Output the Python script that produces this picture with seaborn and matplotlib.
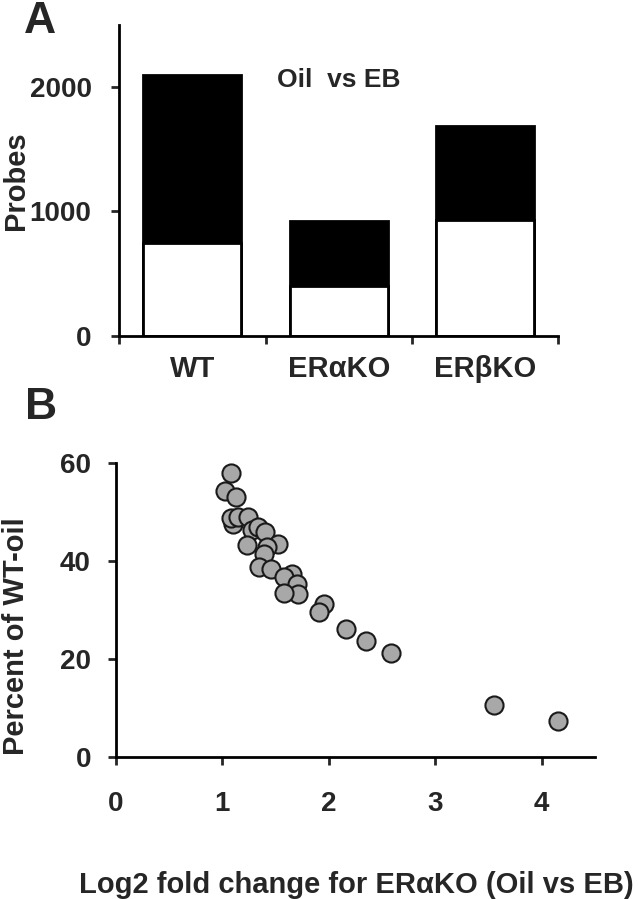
import numpy as np
import pandas as pd
import seaborn as sns
import matplotlib.pyplot as plt
from matplotlib.ticker import FixedLocator

sns.set_style("white")
plt.rcParams["font.family"] = ["Liberation Sans", "DejaVu Sans"]
plt.rcParams["font.weight"] = "bold"

# panel A: probe counts (white = lower part, black = upper part of each stacked bar)
genotypes = ["WT", "ERαKO", "ERβKO"]
total_probes = [2100, 920, 1690]
white_probes = [750, 400, 935]

# panel B: log2 fold change in ERaKO vs percent of WT-oil
log2_fc = [1.08, 1.02, 1.13, 1.10, 1.08, 1.15, 1.24, 1.28, 1.33, 1.40,
           1.23, 1.52, 1.42, 1.39, 1.34, 1.46, 1.65, 1.58, 1.70, 1.71,
           1.58, 1.95, 1.91, 2.16, 2.35, 2.58, 3.55, 4.15]
pct_wt_oil = [58.0, 54.2, 53.0, 47.5, 48.7, 48.9, 48.9, 46.2, 46.9, 45.8,
              43.2, 43.5, 42.8, 41.4, 38.7, 38.3, 37.3, 36.8, 35.3, 33.2,
              33.4, 31.2, 29.5, 26.2, 23.7, 21.2, 10.7, 7.3]

df_a = pd.DataFrame({"genotype": genotypes, "total": total_probes, "white": white_probes})
df_b = pd.DataFrame({"fc": log2_fc, "pct": pct_wt_oil})

fig = plt.figure(figsize=(6.38, 8.99), dpi=100)
ax1 = fig.add_axes([0.187, 0.6266, 0.688, 0.3454])
ax2 = fig.add_axes([0.1818, 0.1576, 0.7508, 0.3277])

lw = 2.0

# ---- panel A ----
sns.barplot(data=df_a, x="genotype", y="total", color="black", edgecolor="black",
            linewidth=lw, width=0.67, errorbar=None, ax=ax1)
sns.barplot(data=df_a, x="genotype", y="white", color="white", edgecolor="black",
            linewidth=lw, width=0.67, errorbar=None, ax=ax1)
for p in ax1.patches:
    p.set_facecolor(p.get_facecolor()[:3] + (1.0,))
ax1.set_xlim(-0.5, 2.5)
ax1.set_ylim(0, 2500)
ax1.set_yticks([0, 1000, 2000])
ax1.xaxis.set_major_locator(FixedLocator([-0.5, 0.5, 1.5, 2.5]))
ax1.xaxis.set_minor_locator(FixedLocator([0, 1, 2]))
ax1.set_xticklabels([])
ax1.set_xticklabels(genotypes, minor=True)
ax1.tick_params(axis="x", which="minor", length=0, pad=14, labelsize=21)
ax1.tick_params(axis="x", which="major", length=6, width=lw, direction="out", bottom=True)
ax1.tick_params(axis="y", length=6, width=lw, direction="out", left=True, pad=14, labelsize=20)
ax1.set_xlabel("")
ax1.set_ylabel("Probes", fontsize=21, fontweight="bold")
ax1.yaxis.set_label_coords(-0.203, 0.5)
ax1.text(1.0, 2060, "Oil  vs EB", ha="center", va="center", fontsize=19, fontweight="bold")
sns.despine(ax=ax1)
for s in ["left", "bottom"]:
    ax1.spines[s].set_linewidth(lw)
    ax1.spines[s].set_color("black")

# ---- panel B ----
sns.scatterplot(data=df_b, x="fc", y="pct", s=170, color="#a8a8a8",
                edgecolor="#1a1a1a", linewidth=1.5, ax=ax2, zorder=3)
ax2.set_xlim(0, 4.5)
ax2.set_ylim(0, 60)
ax2.set_xticks([0, 1, 2, 3, 4])
ax2.set_yticks([0, 20, 40, 60])
ax2.tick_params(axis="x", length=6, width=lw, direction="out", bottom=True, pad=18, labelsize=20)
ax2.tick_params(axis="y", length=6, width=lw, direction="out", left=True, pad=12, labelsize=20)
ax2.set_xlabel("Log2 fold change for ERαKO (Oil vs EB)", fontsize=21, fontweight="bold")
ax2.set_ylabel("Percent of WT-oil", fontsize=21, fontweight="bold")
ax2.xaxis.set_label_coords(0.502, -0.385)
ax2.yaxis.set_label_coords(-0.18, 0.412)
sns.despine(ax=ax2)
for s in ["left", "bottom"]:
    ax2.spines[s].set_linewidth(lw)
    ax2.spines[s].set_color("black")

# panel letters
fig.text(0.063, 0.976, "A", fontsize=32, fontweight="bold", ha="center", va="center")
fig.text(0.065, 0.547, "B", fontsize=32, fontweight="bold", ha="center", va="center")

fig.savefig("out.png", dpi=100)
